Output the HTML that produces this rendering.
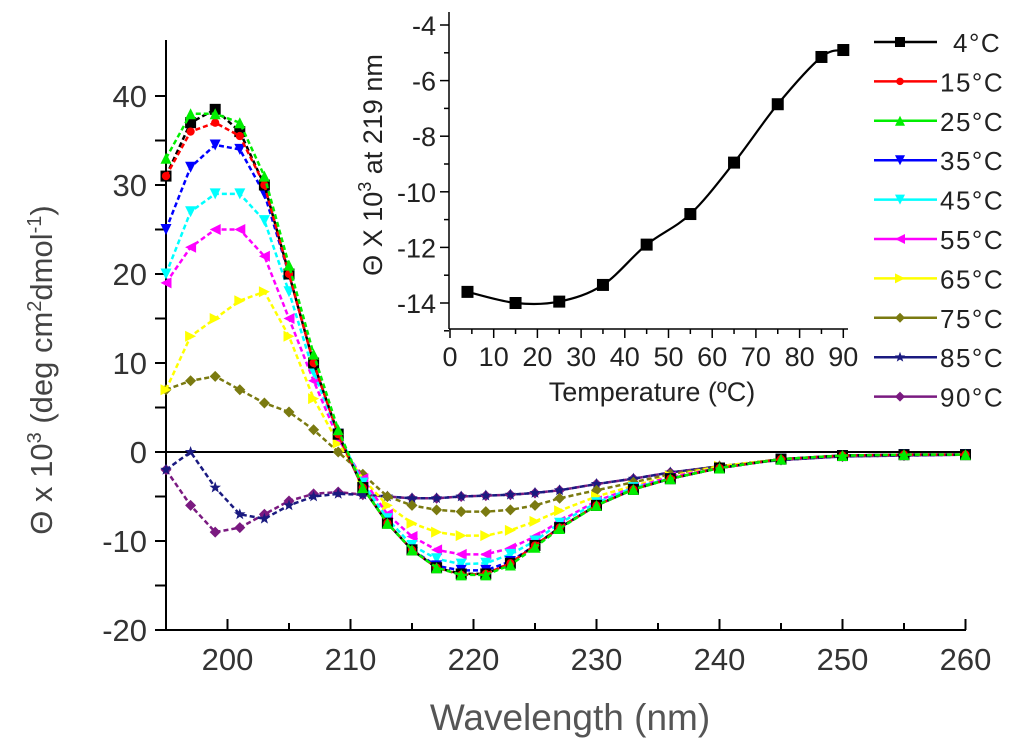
<!DOCTYPE html>
<html><head><meta charset="utf-8"><style>
html,body{margin:0;padding:0;background:#fff;}
svg text{font-family:"Liberation Sans",sans-serif;}
</style></head><body>
<svg id="chart" width="1024" height="751" viewBox="0 0 1024 751" xmlns="http://www.w3.org/2000/svg">
<g id="main"></g>
<g id="inset"></g>
<g id="legend"></g>
</svg>
<script>
const wavelengths=[195,197,199,201,203,205,207,209,211,213,215,217,219,221,223,225,227,230,233,236,240,245,250,255,260];
const seriesNames=["4°C","15°C","25°C","35°C","45°C","55°C","65°C","75°C","85°C","90°C"];
const s4=[31,37,38.5,36,30,20,10,2,-4,-8,-11,-13,-13.7,-13.7,-12.5,-10.5,-8.5,-6,-4.2,-3,-1.8,-0.8,-0.4,-0.3,-0.3];
const s15=[31,36,37,35.5,30,20,10,2,-4,-8,-11,-13,-13.8,-13.7,-12.5,-10.5,-8.5,-6,-4.2,-3,-1.8,-0.8,-0.4,-0.3,-0.3];
const s25=[33,38,38,37,31,21,11,2.5,-4,-8,-11,-13,-13.8,-13.8,-12.7,-10.7,-8.6,-6,-4.2,-3,-1.8,-0.8,-0.4,-0.3,-0.3];
const s35=[25,32,34.5,34,29,20,10,2,-4,-8,-11,-12.8,-13.3,-13.3,-12.3,-10.5,-8.5,-6,-4.2,-3,-1.8,-0.8,-0.4,-0.3,-0.3];
const s45=[20,27,29,29,26,18,9,2,-3.5,-7.5,-10.5,-12,-12.6,-12.5,-11.5,-10,-8,-5.7,-4,-3,-1.8,-0.8,-0.4,-0.3,-0.3];
const s55=[19,23,25,25,22,15,8,1.5,-3,-7,-9.5,-11,-11.5,-11.5,-10.8,-9.5,-7.8,-5.5,-4,-2.8,-1.8,-0.8,-0.4,-0.3,-0.3];
const s65=[7,13,15,17,18,13,6,1,-3,-6,-8,-9,-9.4,-9.4,-8.8,-7.8,-6.6,-5,-3.8,-2.7,-1.6,-0.8,-0.4,-0.3,-0.3];
const s75=[7,8,8.5,7,5.5,4.5,2.5,0,-2.5,-5,-6,-6.5,-6.7,-6.7,-6.5,-6,-5.2,-4.3,-3.4,-2.5,-1.6,-0.8,-0.4,-0.3,-0.3];
const s85=[-2,0,-4,-7,-7.5,-6,-5,-4.7,-4.8,-5,-5.2,-5.2,-5,-4.9,-4.8,-4.6,-4.3,-3.6,-3,-2.3,-1.6,-0.9,-0.5,-0.4,-0.3];
const s90=[-2,-6,-9,-8.5,-7,-5.5,-4.7,-4.5,-4.8,-5,-5.2,-5.2,-5,-4.9,-4.8,-4.6,-4.3,-3.6,-3,-2.3,-1.6,-0.9,-0.5,-0.4,-0.3];
const seriesValues=[s4,s15,s25,s35,s45,s55,s65,s75,s85,s90];
const seriesColors=["#000","#f00","#0e0","#00f","#0ff","#f0f","#ff0","#7a7a10","#1a1a80","#7a1a80"];
const seriesMarkers=["square","dot","tri-up","tri-down","tri-down","tri-left","tri-right","diamond","star","diamond"];
const xTicks=[200,210,220,230,240,250,260];
const yTicks=[-20,-10,0,10,20,30,40];
const insetTemps=[4,15,25,35,45,55,65,75,85,90];
const insetValues=[-13.6,-14.0,-13.95,-13.35,-11.9,-10.8,-8.95,-6.85,-5.15,-4.9];
const insetXTicks=[0,10,20,30,40,50,60,70,80,90];
const insetYTicks=[-14,-12,-10,-8,-6,-4];

const NS="http://www.w3.org/2000/svg";
function el(tag,attrs,parent,text){const e=document.createElementNS(NS,tag);for(const k in attrs)e.setAttribute(k,attrs[k]);if(text!==undefined)e.textContent=text;parent.appendChild(e);return e;}
const X=v=>166+(v-195)*12.3;
const Y=v=>452-v*8.9;
const main=document.getElementById('main');
let a=el('line',{x1:166,y1:40,x2:166,y2:630,stroke:'#000','stroke-width':2},main);


a=el('line',{x1:166,y1:630,x2:966,y2:630,stroke:'#000','stroke-width':2},main);


a=el('line',{x1:166,y1:Y(0),x2:966,y2:Y(0),stroke:'#000','stroke-width':2},main);


for(let v=195;v<=260;v+=5){el('line',{x1:X(v),y1:630,x2:X(v),y2:v%10===0?619:623,stroke:'#000','stroke-width':2},main);}
for(let v=-20;v<=40;v+=5){el('line',{x1:155,y1:Y(v),x2:166,y2:Y(v),stroke:'#000','stroke-width':2},main);}
xTicks.forEach(t=>{const e=el('text',{x:X(t),y:670,'font-size':31,'text-anchor':'middle',fill:'#333'},main,String(t));

});
yTicks.forEach(t=>{const e=el('text',{x:147,y:Y(t)+11,'font-size':31,'text-anchor':'end',fill:'#333'},main,String(t));

});
let t=el('text',{x:570,y:730,'font-size':37,'text-anchor':'middle',fill:'#555'},main,'Wavelength (nm)');


t=el('text',{x:0,y:0,'font-size':31,'text-anchor':'middle',fill:'#444',transform:'translate(52,370) rotate(-90)'},main);


t.innerHTML='Θ x 10<tspan dy="-11" font-size="20">3</tspan><tspan dy="11"> (deg cm</tspan><tspan dy="-11" font-size="20">2</tspan><tspan dy="11">dmol</tspan><tspan dy="-11" font-size="20">-1</tspan><tspan dy="11">)</tspan>';

function marker(shape,cx,cy,r,color,parent){
  let p;
  if(shape==='square')p=el('rect',{x:cx-r,y:cy-r,width:2*r,height:2*r,fill:color},parent);
  else if(shape==='dot')p=el('circle',{cx:cx,cy:cy,r:r*0.75,fill:color},parent);
  else{
    let pts;
    if(shape==='tri-up')pts=[[0,-r],[r,r],[-r,r]];
    else if(shape==='tri-down')pts=[[0,r],[r,-r],[-r,-r]];
    else if(shape==='tri-left')pts=[[-r,0],[r,-r],[r,r]];
    else if(shape==='tri-right')pts=[[r,0],[-r,-r],[-r,r]];
    else if(shape==='diamond')pts=[[0,-r],[r,0],[0,r],[-r,0]];
    else {pts=[];for(let i=0;i<10;i++){const ang=-Math.PI/2+i*Math.PI/5;const rr=i%2?r*0.45:r*1.1;pts.push([rr*Math.cos(ang),rr*Math.sin(ang)]);}}
    p=el('polygon',{points:pts.map(q=>(cx+q[0])+','+(cy+q[1])).join(' '),fill:color},parent);
  }
  return p;
}
const order=[9,8,7,6,5,4,3,0,1,2];
order.forEach(si=>{
  const g=el('g',{},main);
  
  
  const vals=seriesValues[si];
  el('polyline',{points:wavelengths.map((w,i)=>X(w)+','+Y(vals[i])).join(' '),fill:'none',stroke:seriesColors[si],'stroke-width':2.5,'stroke-dasharray':'5 3'},g);
  wavelengths.forEach((w,i)=>{const m=marker(seriesMarkers[si],X(w),Y(vals[i]),5.5,seriesColors[si],g);
  
  });
});

const inset=document.getElementById('inset');
const IX=v=>450+v*4.37;
const IY=v=>25-(v+4)*27.8;
a=el('line',{x1:449,y1:12,x2:449,y2:329,stroke:'#000','stroke-width':1.5},inset);


a=el('line',{x1:449,y1:329,x2:848,y2:329,stroke:'#000','stroke-width':1.5},inset);


for(let v=0;v<=90;v+=5)el('line',{x1:IX(v),y1:329,x2:IX(v),y2:v%10===0?338:334,stroke:'#000','stroke-width':1.5},inset);
for(let v=-15;v<=-4;v+=1)el('line',{x1:449,y1:IY(v),x2:v%2===0?440:444,y2:IY(v),stroke:'#000','stroke-width':1.5},inset);
insetXTicks.forEach(v=>{const e=el('text',{x:IX(v),y:366,'font-size':27,'text-anchor':'middle',fill:'#222'},inset,String(v));

});
insetYTicks.forEach(v=>{const e=el('text',{x:436,y:IY(v)+10,'font-size':27,'text-anchor':'end',fill:'#222'},inset,String(v));

});
t=el('text',{x:652,y:401,'font-size':27,'text-anchor':'middle',fill:'#222'},inset,'Temperature (ºC)');


t=el('text',{x:0,y:0,'font-size':27,'text-anchor':'middle',fill:'#222',transform:'translate(382,165) rotate(-90)'},inset);


t.innerHTML='Θ X 10<tspan dy="-11" font-size="18">3</tspan><tspan dy="11"> at 219 nm</tspan>';
// smooth curve through points (Catmull-Rom)
const ip=insetTemps.map((v,i)=>[IX(v),IY(insetValues[i])]);
let d='M'+ip[0][0]+','+ip[0][1];
for(let i=0;i<ip.length-1;i++){const p0=ip[Math.max(0,i-1)],p1=ip[i],p2=ip[i+1],p3=ip[Math.min(ip.length-1,i+2)];
d+=' C'+(p1[0]+(p2[0]-p0[0])/6)+','+(p1[1]+(p2[1]-p0[1])/6)+' '+(p2[0]-(p3[0]-p1[0])/6)+','+(p2[1]-(p3[1]-p1[1])/6)+' '+p2[0]+','+p2[1];}
let il=el('path',{d:d,fill:'none',stroke:'#000','stroke-width':2.2},inset);


insetTemps.forEach((v,i)=>{const r=el('rect',{x:IX(v)-6,y:IY(insetValues[i])-6,width:12,height:12,fill:'#000'},inset);

});

const legend=document.getElementById('legend');
seriesNames.forEach((n,i)=>{
  const y=42+i*39.4;
  const g=el('g',{},legend);
  
  
  el('line',{x1:874,y1:y,x2:937,y2:y,stroke:seriesColors[i],'stroke-width':2.5},g);
  marker(seriesMarkers[i],900,y,5,seriesColors[i],g);
  el('text',{x:i===0?953:940,y:y+10,'font-size':26,fill:'#222','letter-spacing':'1.5'},g,n);
});
</script>
</body></html>
